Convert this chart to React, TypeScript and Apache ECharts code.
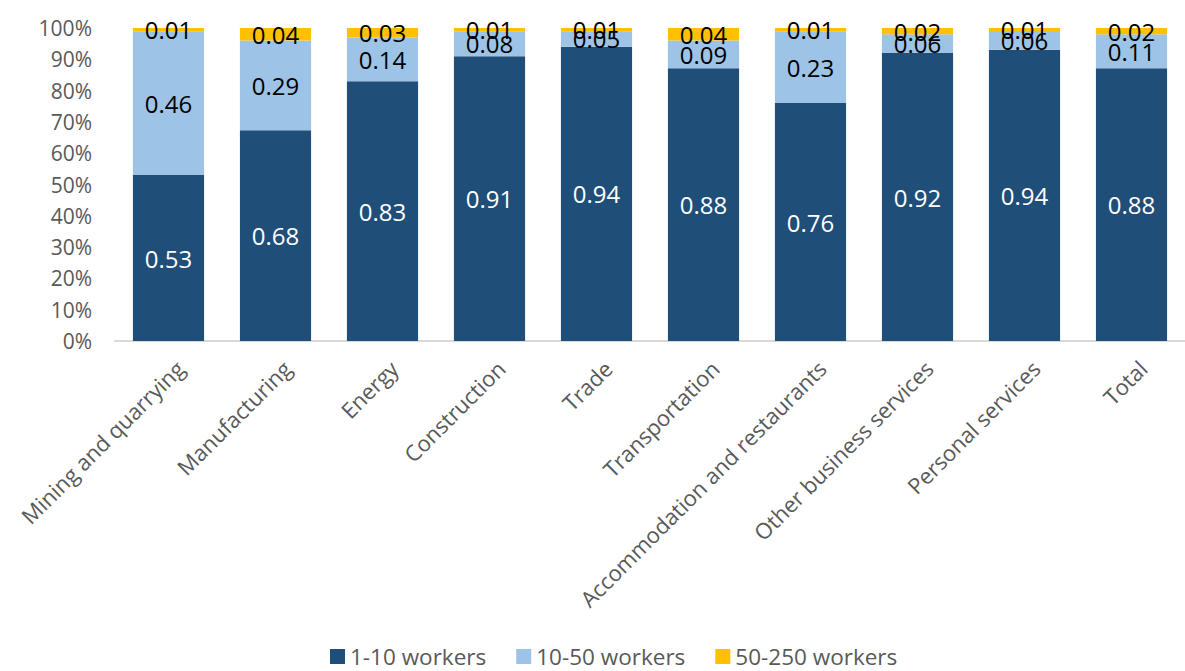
import React, { useEffect, useRef } from "react";
import * as echarts from "echarts";

const categories = [
  "Mining and quarrying",
  "Manufacturing",
  "Energy",
  "Construction",
  "Trade",
  "Transportation",
  "Accommodation and restaurants",
  "Other business services",
  "Personal services",
  "Total",
];
const seriesNames = ["1-10 workers", "10-50 workers", "50-250 workers"];
const small = [0.53, 0.68, 0.83, 0.91, 0.94, 0.88, 0.76, 0.92, 0.94, 0.88];
const medium = [0.46, 0.29, 0.14, 0.08, 0.05, 0.09, 0.23, 0.06, 0.06, 0.11];
const large = [0.01, 0.04, 0.03, 0.01, 0.01, 0.04, 0.01, 0.02, 0.01, 0.02];
const colors = ["#1F4E79", "#9DC3E6", "#FFC000"];
const labelColors = ["#FFFFFF", "#000000", "#000000"];
const yTicks = [0, 0.1, 0.2, 0.3, 0.4, 0.5, 0.6, 0.7, 0.8, 0.9, 1];

const FONT = "'Open Sans', 'Noto Sans', sans-serif";

export default function App() {
  const ref = useRef<HTMLDivElement>(null);
  useEffect(() => {
    if (!ref.current) return;
    const chart = echarts.init(ref.current, null, { renderer: "svg" });
    const raw = [small, medium, large];
    const totals = categories.map((_, i) => small[i] + medium[i] + large[i]);
    const series = raw.map((arr, s) => ({
      name: seriesNames[s],
      type: "bar",
      stack: "total",
      barWidth: "66.5%",
      itemStyle: { color: colors[s] },
      data: arr.map((v, i) => ({ value: v / totals[i], raw: v })),
      label: {
        show: true,
        position: "inside",
        color: labelColors[s],
        fontFamily: FONT,
        fontSize: 24,
        formatter: (p: any) => p.data.raw.toFixed(2),
      },
    }));
    chart.setOption({
      animation: false,
      textStyle: { fontFamily: FONT },
      grid: { left: 115, right: -13, top: 28, bottom: 330, containLabel: false },
      legend: {
        top: 640,
        left: 325,
        itemWidth: 15,
        itemHeight: 15,
        itemGap: 30,
        icon: "rect",
        textStyle: { color: "#595959", fontSize: 22.5, fontFamily: FONT },
        data: seriesNames,
      },
      xAxis: {
        type: "category",
        data: categories,
        axisLine: { show: true, lineStyle: { color: "#D9D9D9", width: 2 } },
        axisTick: { show: false },
        axisLabel: {
          rotate: 45,
          color: "#595959",
          fontSize: 22,
          fontFamily: FONT,
          margin: 12,
          interval: 0,
          verticalAlign: "top",
          lineHeight: 32,
        },
      },
      yAxis: {
        type: "value",
        min: 0,
        max: 1,
        interval: 0.1,
        axisLine: { show: false },
        axisTick: { show: false },
        splitLine: { show: false },
        axisLabel: {
          color: "#595959",
          fontSize: 21,
          fontFamily: FONT,
          margin: 23,
          formatter: (v: number) => {
            const t = yTicks.find((x) => Math.abs(x - v) < 1e-6);
            return `${Math.round((t ?? v) * 100)}%`;
          },
        },
      },
      series,
    });
    return () => chart.dispose();
  }, []);
  return (
    <div
      ref={ref}
      style={{ position: "fixed", left: 0, top: 0, width: 1185, height: 671, background: "#fff" }}
    />
  );
}
